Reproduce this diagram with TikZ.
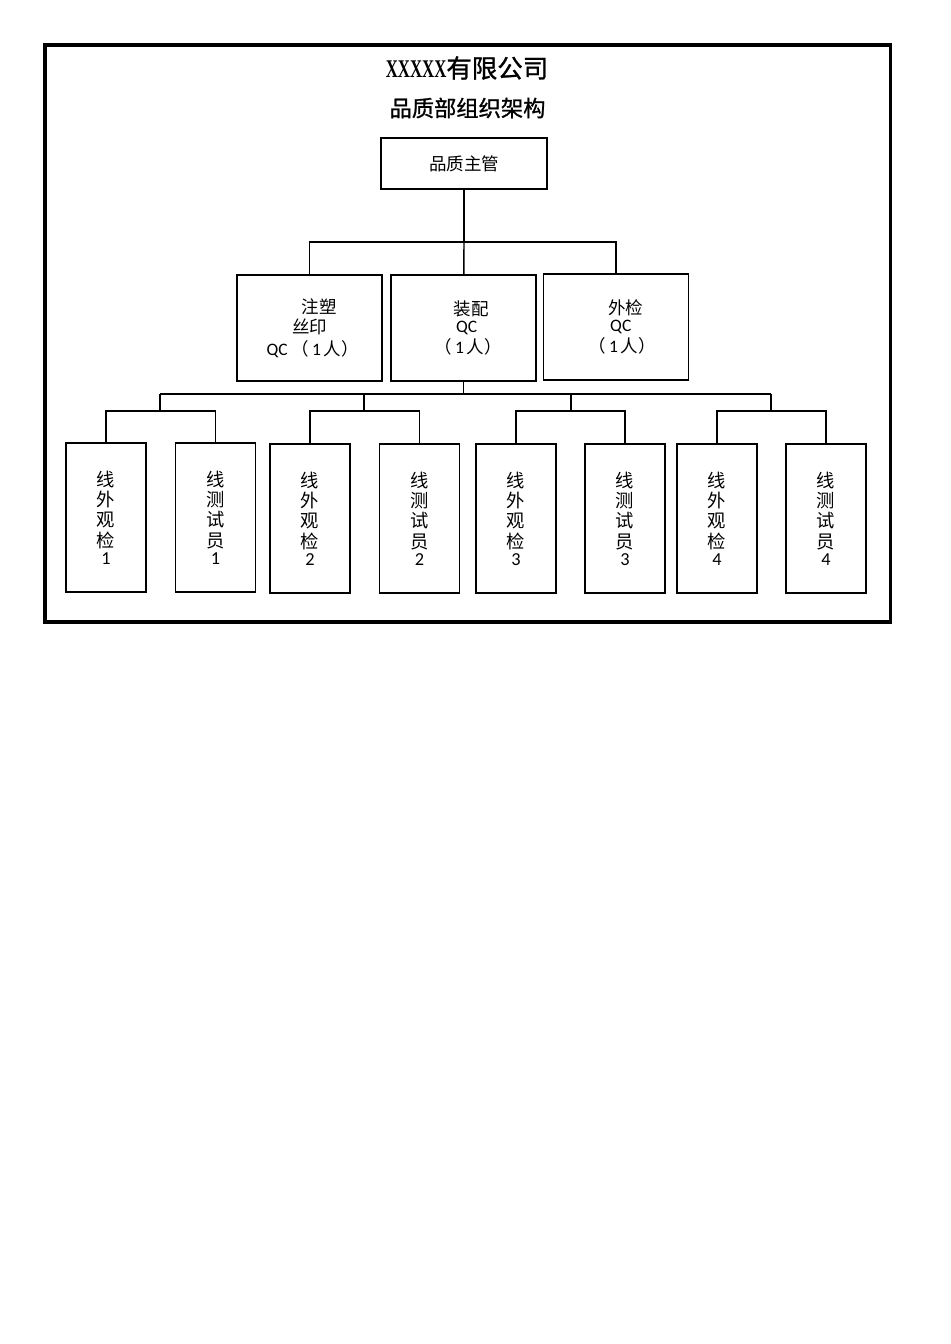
\documentclass[tikz,border=0pt]{standalone}
\usepackage{fontspec}
\setmainfont{Carlito}
\newfontfamily\cjk{Noto Sans CJK SC}
\newfontfamily\cjkmid[FakeBold=1.1]{Noto Sans CJK SC}
\newfontfamily\lat{Carlito}
\newfontfamily\titlelat{Liberation Serif}
\usepackage{tikz}

\tikzset{
    box/.style={draw, line width=0.9pt, inner sep=0pt, align=center, font=\cjk\fontsize{11}{12.6}\selectfont},
    topbox/.style={box, minimum width=104.4pt, minimum height=32.1pt},
    midbox/.style={box, minimum width=91.2pt, minimum height=66.7pt},
    lowbox/.style={box, minimum width=50.3pt, minimum height=93.7pt, font=\cjk\fontsize{11.5}{12.8}\selectfont},
    link/.style={line width=0.9pt},
    frame/.style={line width=1.9pt}
}

\begin{document}
\begin{tikzpicture}[x=0.0221cm, y=-0.0221cm]
        \useasboundingbox (0,0) rectangle (950,1344);
        \draw[frame] (45,45) rectangle (890,622);

        \coordinate (H) at (467,68);
        \coordinate (S) at (467.5,108);
        \node (title) at (H) {\cjkmid\fontsize{16}{18}\selectfont\scalebox{0.66}[1]{\titlelat\bfseries XXXXX}有限公司};
        \node (sub) at (S) {\cjkmid\fontsize{14}{16}\selectfont 品质部组织架构};

        \node[topbox] (chief) at (464,163.5) {品质主管};

        \node[midbox] (mold) at (309.5,328) {\hspace*{12pt}注塑\\丝印\\[1pt]\hspace*{4pt}{\lat QC} （\,{\lat 1}\,人）};
        \node[midbox] (assy) at (463.5,328) {\hspace*{10pt}装配\\[-2pt]\hspace*{4pt}{\lat QC}\\[1pt]\hspace*{6pt}（\,{\lat 1}\,人）};
        \node[midbox] (insp) at (616,327) {\hspace*{12pt}外检\\[-2pt]\hspace*{6pt}{\lat QC}\\[1pt]\hspace*{8pt}（\,{\lat 1}\,人）};

        \node[lowbox] (look1) at (106,517.5) {线\\外\\观\\检\\[-2pt]{\lat 1}};
        \node[lowbox] (test1) at (215.5,517.5) {线\\测\\试\\员\\[-2pt]{\lat 1}};
        \node[lowbox] (look2) at (310,518.5) {线\\外\\观\\检\\[-2pt]{\lat 2}};
        \node[lowbox] (test2) at (419.5,518.5) {线\\测\\试\\员\\[-2pt]{\lat 2}};
        \node[lowbox] (look3) at (516,518.5) {线\\外\\观\\检\\[-2pt]{\lat 3}};
        \node[lowbox] (test3) at (625,518.5) {线\\测\\试\\员\\[-2pt]{\lat 3}};
        \node[lowbox] (look4) at (717,518.5) {线\\外\\观\\检\\[-2pt]{\lat 4}};
        \node[lowbox] (test4) at (826,518.5) {线\\测\\试\\员\\[-2pt]{\lat 4}};

        \coordinate (T) at (464,242);
        \coordinate (M) at (463.5,394);
        \coordinate (G1) at (160,411);
        \coordinate (G2) at (364,411);
        \coordinate (G3) at (571,411);
        \coordinate (G4) at (771,411);

        \draw[link] (chief) -- (T);
        \draw[link] (mold.north) |- (T) -| (insp.north);
        \draw[link] (assy) -- (T);

        \draw[link] (assy) -- (M);
        \draw[link] (G1 |- M) -- (G4 |- M);
        \draw[link] (G1 |- M) -- (G1);
        \draw[link] (G2 |- M) -- (G2);
        \draw[link] (G3 |- M) -- (G3);
        \draw[link] (G4 |- M) -- (G4);

        \draw[link] (look1.north) |- (G1) -| (test1.north);
        \draw[link] (look2.north) |- (G2) -| (test2.north);
        \draw[link] (look3.north) |- (G3) -| (test3.north);
        \draw[link] (look4.north) |- (G4) -| (test4.north);

    \end{tikzpicture}
\end{document}
